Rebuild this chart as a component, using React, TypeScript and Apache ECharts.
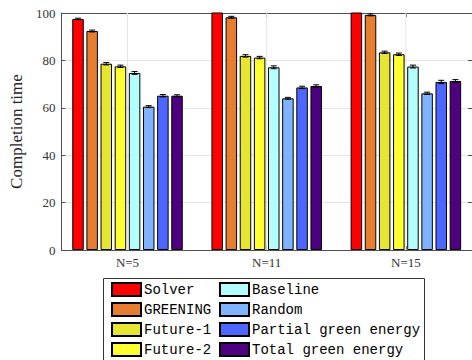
import React, { useEffect, useRef } from "react";
import * as echarts from "echarts";

const categories = ["N=5", "N=11", "N=15"];
const seriesNames = [
  "Solver",
  "GREENING",
  "Future-1",
  "Future-2",
  "Baseline",
  "Random",
  "Partial green energy",
  "Total green energy",
];
const colors = [
  "#ff0000",
  "#e67e32",
  "#e6e632",
  "#ffff32",
  "#b3ffff",
  "#80b3ff",
  "#4d66ff",
  "#4d0080",
];
const solver = [97.5, 105, 105];
const greening = [92.4, 98.2, 99.2];
const future1 = [78.6, 81.9, 83.4];
const future2 = [77.5, 81.2, 82.6];
const baseline = [74.7, 77.1, 77.4];
const random = [60.5, 64.0, 66.1];
const partial = [65.1, 68.6, 70.9];
const total = [65.1, 69.2, 71.3];
const values = [solver, greening, future1, future2, baseline, random, partial, total];
const errors = [
  [0.3, 0.3, 0.3],
  [0.4, 0.4, 0.4],
  [0.5, 0.5, 0.5],
  [0.5, 0.5, 0.5],
  [0.6, 0.6, 0.6],
  [0.4, 0.4, 0.5],
  [0.5, 0.5, 0.7],
  [0.4, 0.5, 0.6],
];
const categoryPositions = [1, 2, 3];
const yTicks = [0, 20, 40, 60, 80, 100];

const BAR_W = 11.5;
const GAP_RATIO = 0.23;
const SERIF = "Liberation Serif";

export default function App() {
  const ref = useRef<HTMLDivElement>(null);
  useEffect(() => {
    if (!ref.current) return;
    const chart = echarts.init(ref.current, null, { renderer: "svg" });
    const step = BAR_W * (1 + GAP_RATIO);
    const n = seriesNames.length;
    const barSeries = seriesNames.map((name, i) => ({
      name,
      type: "bar",
      data: values[i].map((v, k) => [categoryPositions[k], v]),
      barWidth: BAR_W,
      barGap: GAP_RATIO * 100 + "%",
      itemStyle: { color: colors[i], borderColor: "#000", borderWidth: 1 },
      z: 2,
    }));
    const errSeries = seriesNames.map((name, i) => ({
      type: "custom",
      name: name + "-err",
      z: 5,
      silent: true,
      data: values[i].map((v, k) => [categoryPositions[k], v, errors[i][k]]),
      renderItem: (params: any, api: any) => {
        const x = api.value(0);
        const v = api.value(1);
        const e = api.value(2);
        if (v > 100) return null;
        const off = (i - (n - 1) / 2) * step;
        const lo = api.coord([x, v - e]);
        const hi = api.coord([x, v + e]);
        const cx = lo[0] + off;
        const cw = 3;
        const st = { stroke: "#000", lineWidth: 1 };
        return {
          type: "group",
          children: [
            { type: "line", shape: { x1: cx, y1: lo[1], x2: cx, y2: hi[1] }, style: st },
            { type: "line", shape: { x1: cx - cw, y1: lo[1], x2: cx + cw, y2: lo[1] }, style: st },
            { type: "line", shape: { x1: cx - cw, y1: hi[1], x2: cx + cw, y2: hi[1] }, style: st },
          ],
        };
      },
    }));
    const legendCommon = {
      orient: "vertical",
      top: 281,
      height: 120,
      padding: 0,
      itemWidth: 29,
      itemHeight: 13,
      itemGap: 3,
      icon: "rect",
      textStyle: { fontFamily: "Liberation Mono", fontSize: 14, color: "#000", lineHeight: 17, padding: [0, 0, 0, -2] },
    };
    const axisColor = "#505050";
    const xAxisCommon = {
      type: "value",
      min: 0.525,
      max: 3.475,
      axisLine: { show: true, onZero: false, lineStyle: { color: axisColor, width: 1 } },
      axisTick: { show: true, inside: true, length: 4, customValues: categoryPositions, lineStyle: { color: axisColor } },
      splitLine: { show: false },
    };
    chart.setOption({
      animation: false,
      backgroundColor: "#fff",
      grid: { left: 58, top: 13, width: 416, height: 237 },
      legend: [
        { ...legendCommon, left: 111, data: seriesNames.slice(0, 4) },
        { ...legendCommon, left: 219, data: seriesNames.slice(4) },
      ],
      graphic: [
        {
          type: "rect",
          left: 103,
          top: 278,
          z: 0,
          shape: { width: 321, height: 100 },
          style: { fill: "#fff", stroke: "#333", lineWidth: 1 },
        },
      ],
      xAxis: [
        {
          ...xAxisCommon,
          position: "bottom",
          axisLabel: {
            fontFamily: SERIF,
            fontSize: 13,
            color: "#333",
            margin: 6,
            customValues: categoryPositions,
            formatter: (v: number) => categories[categoryPositions.indexOf(Math.round(v))] ?? "",
          },
        },
        {
          ...xAxisCommon,
          position: "top",
          axisLabel: { show: false },
        },
      ],
      yAxis: [
        {
          type: "value",
          min: 0,
          max: 100,
          interval: 20,
          name: "Completion time",
          nameLocation: "middle",
          nameGap: 31,
          nameTextStyle: { fontFamily: SERIF, fontSize: 17, color: "#262626" },
          axisLine: { show: true, lineStyle: { color: axisColor } },
          axisTick: { show: true, inside: true, length: 4, lineStyle: { color: axisColor } },
          axisLabel: {
            fontFamily: SERIF,
            fontSize: 13,
            color: "#333",
            margin: 6,
            formatter: (v: number) => (yTicks.includes(v) ? String(v) : ""),
          },
          splitLine: { show: true, lineStyle: { color: "#e4e4e4", width: 1 } },
        },
        {
          type: "value",
          min: 0,
          max: 100,
          interval: 20,
          position: "right",
          axisLine: { show: true, lineStyle: { color: axisColor } },
          axisTick: { show: true, inside: true, length: 4, lineStyle: { color: axisColor } },
          axisLabel: { show: false },
          splitLine: { show: false },
        },
      ],
      series: [
        ...barSeries,
        ...errSeries,
        {
          type: "custom",
          silent: true,
          z: 1,
          data: categoryPositions.map((p) => [p]),
          renderItem: (params: any, api: any) => {
            const p0 = api.coord([api.value(0), 0]);
            const p1 = api.coord([api.value(0), 100]);
            return {
              type: "line",
              shape: { x1: p0[0], y1: p0[1], x2: p1[0], y2: p1[1] },
              style: { stroke: "#e4e4e4", lineWidth: 1 },
            };
          },
        },
      ],
    });
    return () => chart.dispose();
  }, []);
  return <div ref={ref} style={{ width: 472, height: 360, position: "absolute", left: 0, top: 0 }} />;
}
